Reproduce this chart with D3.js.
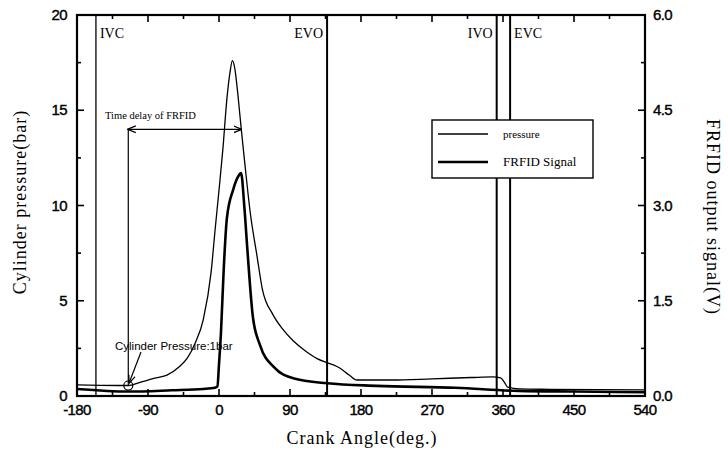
<!DOCTYPE html>
<html>
<head>
<meta charset="utf-8">
<script src="https://cdn.jsdelivr.net/npm/d3@7"></script>
<style>
  body { margin: 0; background: #fff; }
  svg text { fill: #000; }
</style>
</head>
<body>
<div id="container"></div>
<script>
// crank angle (deg) / cylinder pressure (bar)
const pressAngle = [-180, -150, -115, -100, -80, -66, -50, -40, -30, -20, -10, -5, 0, 5, 10, 14, 17, 20, 24, 28, 32, 40, 48, 55, 68, 80, 94, 110, 125, 137, 145, 153, 165, 175, 220, 270, 320, 347, 357, 362, 366, 381, 420, 480, 540]
const pressVal = [0.58, 0.56, 0.55, 0.72, 0.95, 1.1, 1.55, 2.0, 2.8, 4.0, 6.5, 8.7, 10.8, 13.0, 15.6, 17.0, 17.6, 17.2, 15.8, 14.1, 12.5, 9.5, 7.4, 5.6, 4.3, 3.55, 2.9, 2.35, 1.95, 1.75, 1.63, 1.47, 1.1, 0.84, 0.84, 0.9, 0.97, 1.0, 0.95, 0.7, 0.47, 0.37, 0.35, 0.33, 0.32]

// crank angle (deg) / FRFID output (V)
const fidAngle = [-180, -115, -60, -20, -5, -2, 0, 2.5, 6, 10, 18, 24, 28, 32, 36, 43, 52, 70, 94, 137, 200, 300, 380, 450, 540]
const fidVal = [0.11, 0.07, 0.09, 0.11, 0.13, 0.15, 0.5, 1.0, 2.0, 2.8, 3.25, 3.45, 3.51, 3.0, 2.3, 1.24, 0.8, 0.45, 0.28, 0.2, 0.16, 0.13, 0.08, 0.07, 0.06]

// valve timing marks
const events = ["IVC", "EVO", "IVO", "EVC"]
const eventAngle = [-156, 137, 352, 369]
const eventSide = ["right", "left", "left", "right"]

const xTicks = [-180, -90, 0, 90, 180, 270, 360, 450, 540]
const yLeftTicks = [0, 5, 10, 15, 20]
const yRightTicks = [0, 1.5, 3.0, 4.5, 6.0]

const width = 728
const height = 458
const L = 77, R = 645, T = 15, B = 396

const svg = d3.select("#container").append("svg")
    .attr("width", width)
    .attr("height", height)

const x = d3.scaleLinear().domain([-180, 540]).range([L, R])
const yL = d3.scaleLinear().domain([0, 20]).range([B, T])
const yR = d3.scaleLinear().domain([0, 6]).range([B, T])

const serif = "'Liberation Serif', 'Times New Roman', serif"
const sans = "'Liberation Sans', Arial, sans-serif"

// ticks (inward)
function ticks(g, scale, vals, orient, len) {
    g.selectAll("line").data(vals).enter().append("line")
        .attr("stroke", "#000").attr("stroke-width", 1.6)
        .each(function (d) {
            const s = d3.select(this)
            if (orient == "bottom") s.attr("x1", scale(d)).attr("x2", scale(d)).attr("y1", B).attr("y2", B - len)
            if (orient == "top") s.attr("x1", scale(d)).attr("x2", scale(d)).attr("y1", T).attr("y2", T + len)
            if (orient == "left") s.attr("y1", scale(d)).attr("y2", scale(d)).attr("x1", L).attr("x2", L + len)
            if (orient == "right") s.attr("y1", scale(d)).attr("y2", scale(d)).attr("x1", R).attr("x2", R - len)
        })
}
const tg = svg.append("g")
const xMinor = d3.range(-135, 540, 90)
ticks(tg.append("g"), x, xTicks, "bottom", 7)
ticks(tg.append("g"), x, xMinor, "bottom", 4)
ticks(tg.append("g"), x, xTicks, "top", 7)
ticks(tg.append("g"), x, xMinor, "top", 4)
ticks(tg.append("g"), yL, yLeftTicks, "left", 7)
ticks(tg.append("g"), yL, [2.5, 7.5, 12.5, 17.5], "left", 4)
ticks(tg.append("g"), yR, yRightTicks, "right", 7)
ticks(tg.append("g"), yR, [0.75, 2.25, 3.75, 5.25], "right", 4)

// event lines
svg.append("g").selectAll("line")
    .data(eventAngle)
    .enter().append("line")
    .attr("x1", d => x(d)).attr("x2", d => x(d))
    .attr("y1", T).attr("y2", B)
    .attr("stroke", "#000")
    .attr("stroke-width", (d, i) => i == 0 ? 1.3 : 2)

svg.append("g").selectAll("text")
    .data(events)
    .enter().append("text")
    .attr("x", (d, i) => eventSide[i] == "right" ? x(eventAngle[i]) + 4 : x(eventAngle[i]) - 4)
    .attr("y", 38)
    .attr("text-anchor", (d, i) => eventSide[i] == "right" ? "start" : "end")
    .style("font-family", serif)
    .style("font-size", "14px")
    .text(d => d)

// curves
const pressLine = d3.line()
    .x((d, i) => x(pressAngle[i]))
    .y(d => yL(d))
    .curve(d3.curveMonotoneX)
svg.append("path")
    .datum(pressVal)
    .attr("d", pressLine)
    .attr("fill", "none")
    .attr("stroke", "#000")
    .attr("stroke-width", 1.3)

const fidLine = d3.line()
    .x((d, i) => x(fidAngle[i]))
    .y(d => yR(d))
    .curve(d3.curveMonotoneX)
svg.append("path")
    .datum(fidVal)
    .attr("d", fidLine)
    .attr("fill", "none")
    .attr("stroke", "#000")
    .attr("stroke-width", 2.6)

// time delay annotation
const delayStart = -115, delayEnd = 28
const yDelay = yL(14.0)
svg.append("defs").append("marker")
    .attr("id", "arr")
    .attr("viewBox", "0 0 10 10")
    .attr("refX", 9).attr("refY", 5)
    .attr("markerWidth", 7).attr("markerHeight", 7)
    .attr("orient", "auto-start-reverse")
    .append("path").attr("d", "M0,1 L10,5 L0,9").attr("fill", "none").attr("stroke", "#000").attr("stroke-width", 1.5)

svg.append("line")
    .attr("x1", x(delayStart)).attr("x2", x(delayEnd))
    .attr("y1", yDelay).attr("y2", yDelay)
    .attr("stroke", "#000").attr("stroke-width", 1.2)
    .attr("marker-start", "url(#arr)")
    .attr("marker-end", "url(#arr)")
svg.append("line")
    .attr("x1", x(delayStart)).attr("x2", x(delayStart))
    .attr("y1", yDelay).attr("y2", yL(0.55))
    .attr("stroke", "#000").attr("stroke-width", 1.2)
svg.append("text")
    .attr("x", 105).attr("y", 119)
    .style("font-family", serif)
    .style("font-size", "10.5px")
    .text("Time delay of FRFID")

// 1 bar point
svg.append("circle")
    .attr("cx", x(delayStart)).attr("cy", yL(0.55))
    .attr("r", 4.5)
    .attr("fill", "none").attr("stroke", "#000").attr("stroke-width", 1.2)
svg.append("line")
    .attr("x1", 141).attr("y1", 352)
    .attr("x2", x(delayStart) + 1).attr("y2", yL(0.55) - 3)
    .attr("stroke", "#000").attr("stroke-width", 1.2)
    .attr("marker-end", "url(#arr)")
svg.append("text")
    .attr("x", 115).attr("y", 350)
    .style("font-family", sans)
    .style("font-size", "11.5px")
    .text("Cylinder Pressure:1bar")

// legend
const lg = svg.append("g")
lg.append("rect")
    .attr("x", 432).attr("y", 120).attr("width", 161).attr("height", 58)
    .attr("fill", "#fff").attr("stroke", "#000").attr("stroke-width", 1.4)
const legendNames = ["pressure", "FRFID Signal"]
lg.selectAll("line.k").data(legendNames).enter().append("line")
    .attr("x1", 438).attr("x2", 488)
    .attr("y1", (d, i) => 134 + i * 28).attr("y2", (d, i) => 134 + i * 28)
    .attr("stroke", "#000").attr("stroke-width", (d, i) => i == 0 ? 1.3 : 2.6)
lg.selectAll("text").data(legendNames).enter().append("text")
    .attr("x", 503)
    .attr("y", (d, i) => 138 + i * 28)
    .style("font-family", serif)
    .style("font-size", (d, i) => i == 0 ? "11px" : "13px")
    .text(d => d)

// frame
svg.append("rect")
    .attr("x", L).attr("y", T).attr("width", R - L).attr("height", B - T)
    .attr("fill", "none").attr("stroke", "#000").attr("stroke-width", 2.2)

// tick labels
const tickStyle = s => s.style("font-family", sans).style("font-size", "15px")
    .style("letter-spacing", "-0.6px").attr("stroke", "#000").attr("stroke-width", 0.4)
svg.append("g").selectAll("text").data(xTicks).enter().append("text")
    .attr("x", d => x(d)).attr("y", 415)
    .attr("text-anchor", "middle")
    .call(tickStyle)
    .text(d => d)
svg.append("g").selectAll("text").data(yLeftTicks).enter().append("text")
    .attr("x", 67).attr("y", d => yL(d) + 5)
    .attr("text-anchor", "end")
    .call(tickStyle)
    .text(d => d)
svg.append("g").selectAll("text").data(yRightTicks).enter().append("text")
    .attr("x", 653).attr("y", d => yR(d) + 5)
    .call(tickStyle)
    .text(d => d.toFixed(1))

// axis titles
const titleStyle = s => s.attr("text-anchor", "middle")
    .style("font-family", serif).style("font-size", "18px")
    .style("letter-spacing", "1px")
svg.append("text")
    .attr("x", 362).attr("y", 444)
    .call(titleStyle)
    .text("Crank Angle(deg.)")
svg.append("text")
    .attr("transform", "translate(26,202) rotate(-90)")
    .call(titleStyle)
    .text("Cylinder pressure(bar)")
svg.append("text")
    .attr("transform", "translate(707,217) rotate(90)")
    .call(titleStyle)
    .text("FRFID output signal(V)")
</script>
</body>
</html>
